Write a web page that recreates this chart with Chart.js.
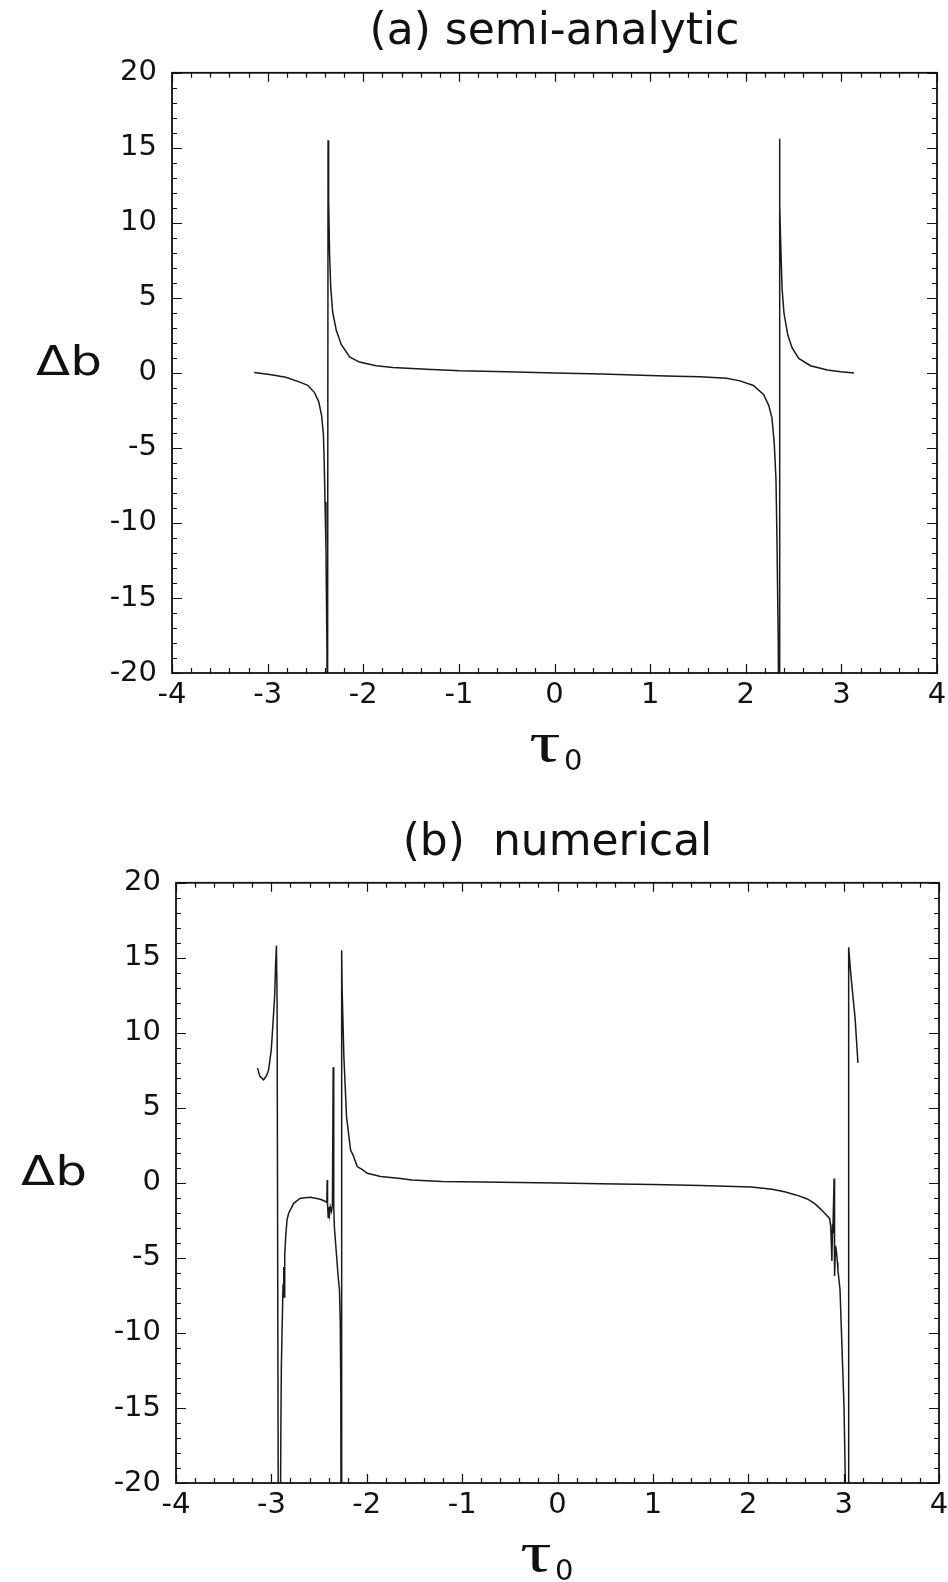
<!DOCTYPE html>
<html>
<head>
<meta charset="utf-8">
<title>Δb vs τ0 — semi-analytic and numerical</title>
<script src="https://cdn.jsdelivr.net/npm/chart.js@4.4.0/dist/chart.umd.min.js"></script>
<style>
  html, body { margin: 0; padding: 0; background: #fff; }
  .panel { position: absolute; left: 0; }
  #panelA { top: 0; }
  #panelB { top: 790px; }
</style>
</head>
<body>
<canvas id="panelA" class="panel" width="948" height="790"></canvas>
<canvas id="panelB" class="panel" width="948" height="792"></canvas>
<script>
// tick labels
const xTicks = [-4, -3, -2, -1, 0, 1, 2, 3, 4];
const yTicks = [-20, -15, -10, -5, 0, 5, 10, 15, 20];

const titleA = '(a) semi-analytic';
const titleB = '(b)  numerical';

// (a) semi-analytic: tau0 and delta b
// values of -30 are off the bottom of the plot (the curve runs into the pole)
const tauA = [
  -3.14, -2.98, -2.81, -2.67, -2.58, -2.51, -2.466, -2.435, -2.417, -2.408,
  -2.40, -2.39, -2.38, -2.374, -2.368, -2.362, -2.352, -2.34, -2.32, -2.283,
  -2.23, -2.143, -2.04, -1.865, -1.69, -1.34, -0.99, -0.5, 0, 0.5,
  0.99, 1.27, 1.52, 1.8, 1.94, 2.08, 2.186, 2.24, 2.274, 2.298,
  2.316, 2.326, 2.34, 2.349, 2.352, 2.358, 2.365, 2.38, 2.40, 2.44,
  2.484, 2.554, 2.677, 2.853, 2.993, 3.133
];
const dbA = [
  0.02, -0.1, -0.29, -0.6, -0.83, -1.31, -1.91, -2.86, -4.06, -5.97,
  -8.6, -11.7, -18, -30, 15.5, 11.5, 7.9, 5.7, 4.06, 2.86,
  1.9, 1.07, 0.72, 0.48, 0.36, 0.24, 0.14, 0.07, 0.0, -0.08,
  -0.17, -0.22, -0.26, -0.36, -0.53, -0.84, -1.44, -2.16, -3.0, -4.68,
  -7.07, -10.9, -18, -30, 15.6, 11.2, 8.75, 5.6, 3.96, 2.52,
  1.68, 0.96, 0.48, 0.19, 0.07, 0.0
];

// (b) numerical
const tauB = [
  -3.145, -3.12, -3.082, -3.05, -3.029, -3.001, -2.983, -2.966, -2.956, -2.947,
  -2.94, -2.925, -2.912, -2.9, -2.895, -2.878, -2.87, -2.865, -2.86, -2.85,
  -2.836, -2.819, -2.766, -2.696, -2.591, -2.486, -2.433, -2.418, -2.415, -2.411,
  -2.404, -2.398, -2.39, -2.382, -2.37, -2.36, -2.352, -2.346, -2.339, -2.321,
  -2.30, -2.286, -2.278, -2.272, -2.268, -2.264, -2.262, -2.258, -2.24, -2.212,
  -2.17, -2.14, -2.1, -2.05, -1.994, -1.855, -1.645, -1.526, -1.21, -0.8,
  -0.4, 0, 0.45, 1.0, 1.5, 2.03, 2.25, 2.38, 2.5, 2.62,
  2.7, 2.765, 2.82, 2.853, 2.865, 2.877, 2.883, 2.888, 2.9, 2.905,
  2.915, 2.923, 2.935, 2.94, 2.962, 2.975, 3.004, 3.018, 3.028, 3.048,
  3.053, 3.07, 3.095, 3.12, 3.15
];
const dbB = [
  7.65, 7.1, 6.87, 7.15, 7.53, 8.87, 10.65, 12.4, 14.5, 15.8,
  12.0, -30, -30, -16, -12.1, -6.8, -5.6, -7.6, -4.8, -3.6,
  -2.47, -2.02, -1.36, -1.02, -0.96, -1.09, -1.24, -1.3, 0.2, -1.45,
  -2.3, -1.6, -2.1, -1.6, -1.9, -1.5, 7.7, -1.6, -3.0, -4.47,
  -6.24, -7.13, -9.2, -14, -30, -30, 15.5, 12.9, 8.42, 4.42,
  2.2, 1.8, 1.09, 0.9, 0.64, 0.42, 0.3, 0.2, 0.1, 0.06,
  0.03, 0.0, -0.05, -0.1, -0.17, -0.28, -0.42, -0.59, -0.8, -1.07,
  -1.4, -1.78, -2.15, -2.37, -2.9, -5.2, -3.0, -3.1, 0.3, -6.2,
  -4.2, -4.5, -5.3, -5.8, -7.1, -9.5, -14.9, -20, -30, -30,
  15.7, 14.3, 12.6, 11.0, 8.0
];

const ink = '#111';
Chart.defaults.font.family = '"DejaVu Sans", "Liberation Sans", sans-serif';
Chart.defaults.color = ink;

// box round the plot with inward ticks on all four sides
const frameTicks = {
  id: 'frameTicks',
  afterDatasetsDraw(chart) {
    const { ctx, chartArea: a, scales } = chart;
    const sx = scales.x;
    const sy = scales.y;
    ctx.save();
    ctx.strokeStyle = ink;
    ctx.lineWidth = 1.2;
    ctx.beginPath();
    for (let i = -20; i <= 20; i++) {
      const px = Math.round(sx.getPixelForValue(i / 5)) + 0.5;
      const len = i % 5 === 0 ? 9 : 5;
      ctx.moveTo(px, a.bottom); ctx.lineTo(px, a.bottom - len);
      ctx.moveTo(px, a.top); ctx.lineTo(px, a.top + len);
    }
    for (let v = -20; v <= 20; v++) {
      const py = Math.round(sy.getPixelForValue(v)) + 0.5;
      const len = v % 5 === 0 ? 10 : 5;
      ctx.moveTo(a.left, py); ctx.lineTo(a.left + len, py);
      ctx.moveTo(a.right, py); ctx.lineTo(a.right - len, py);
    }
    ctx.stroke();
    ctx.lineWidth = 1.8;
    ctx.strokeRect(a.left, a.top, a.right - a.left, a.bottom - a.top);
    ctx.restore();
  }
};

// the scanned lettering is wide, so stretch it a little
const wideText = (ctx, text, x, y, sx) => {
  ctx.save();
  ctx.translate(x, y);
  ctx.scale(sx, 1);
  ctx.fillText(text, 0, 0);
  ctx.restore();
};

// "Δb" sits level with zero, "τ0" under the x ticks
const axisNames = {
  id: 'axisNames',
  afterDraw(chart, args, opts) {
    const { ctx, chartArea: a, scales } = chart;
    const y0 = scales.y.getPixelForValue(0);
    ctx.save();
    ctx.fillStyle = ink;
    ctx.textBaseline = 'alphabetic';
    ctx.textAlign = 'center';
    ctx.font = '40px "DejaVu Sans"';
    wideText(ctx, 'Δb', opts.dbX, y0 + 2, 1.25);
    ctx.font = '58px "Liberation Serif"';
    wideText(ctx, 'τ', opts.tauX, a.bottom + 88, 1.35);
    ctx.textAlign = 'left';
    ctx.font = '29px "DejaVu Sans"';
    ctx.fillText('0', opts.tauX + 19, a.bottom + 97);
    ctx.restore();
  }
};

const makePanel = (id, title, tau, db, lay) => {
  const points = tau.map((t, i) => ({ x: t, y: db[i] }));
  return new Chart(document.getElementById(id), {
    type: 'scatter',
    data: {
      datasets: [{
        data: points,
        showLine: true,
        borderColor: '#1a1a1a',
        borderWidth: 1.5,
        pointRadius: 0,
        tension: 0
      }]
    },
    options: {
      responsive: false,
      animation: false,
      devicePixelRatio: 1,
      layout: { padding: { left: 0, right: lay.right, top: 0, bottom: 0 } },
      plugins: {
        legend: { display: false },
        tooltip: { enabled: false },
        title: {
          display: true,
          text: title,
          fullSize: false,
          color: ink,
          font: { size: 44, weight: 'normal', lineHeight: 1.2 },
          padding: { top: lay.titleTop, bottom: lay.titleBottom }
        },
        axisNames: { dbX: lay.dbX, tauX: lay.tauX }
      },
      scales: {
        x: {
          type: 'linear',
          min: -4,
          max: 4,
          grid: { display: false, drawTicks: false },
          border: { display: false },
          ticks: { stepSize: 1, padding: 5, autoSkip: false, maxRotation: 0, font: { size: 29 }, color: ink },
          afterBuildTicks: s => { s.ticks = xTicks.map(v => ({ value: v })); },
          afterFit: s => { s.height = lay.xAxisH; s.paddingLeft = 0; s.paddingRight = 0; }
        },
        y: {
          type: 'linear',
          min: -20,
          max: 20,
          grid: { display: false, drawTicks: false },
          border: { display: false },
          ticks: { stepSize: 5, padding: 15, autoSkip: false, font: { size: 29 }, color: ink },
          afterBuildTicks: s => { s.ticks = yTicks.map(v => ({ value: v })); },
          afterFit: s => { s.width = lay.yAxisW; s.paddingTop = 0; s.paddingBottom = 0; }
        }
      }
    },
    plugins: [frameTicks, axisNames]
  });
};

makePanel('panelA', titleA, tauA, dbA, {
  right: 11, yAxisW: 172, xAxisH: 117, titleTop: 6, titleBottom: 14, dbX: 69, tauX: 545
});
makePanel('panelB', titleB, tauB, dbB, {
  right: 9, yAxisW: 176, xAxisH: 99, titleTop: 27, titleBottom: 13, dbX: 54, tauX: 536
});
</script>
</body>
</html>
